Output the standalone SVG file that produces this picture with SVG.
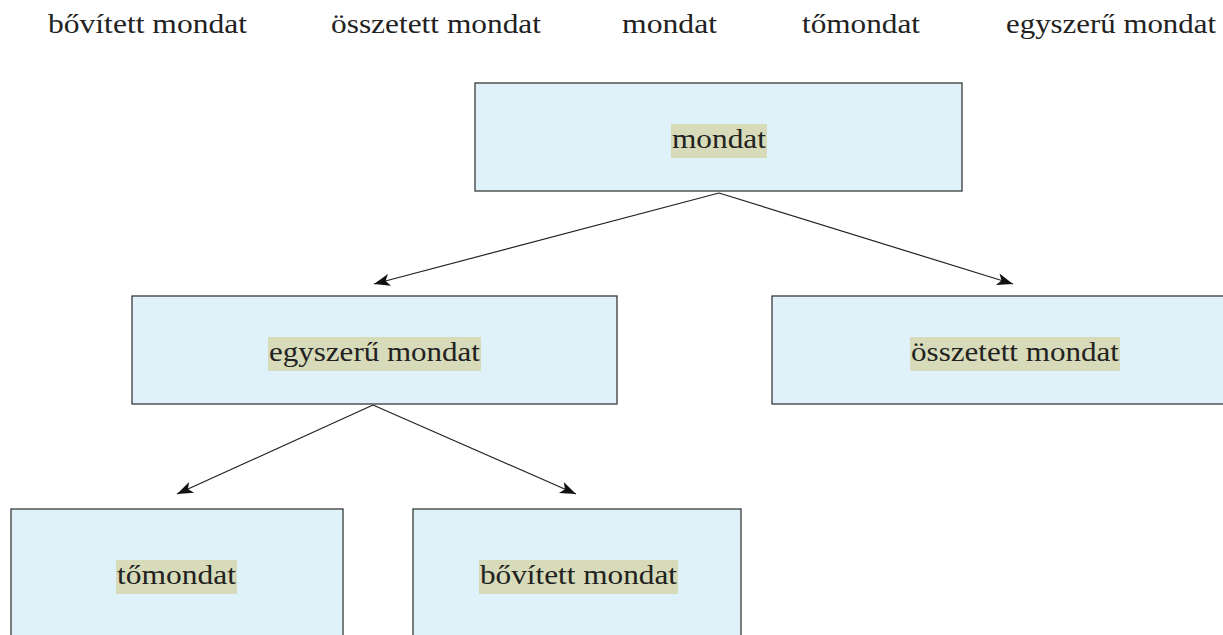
<svg xmlns="http://www.w3.org/2000/svg" width="1223" height="635" viewBox="0 0 1223 635">
<style>
.box{fill:#dff2fa;stroke:#3a3a3a;stroke-width:1.3}
.hl{fill:#d7dbb9}
.t{font-size:28px;fill:#222}
.c{stroke:#222;stroke-width:1.2;fill:none;marker-end:url(#ah)}
</style>
<defs>
<marker id="ah" markerUnits="userSpaceOnUse" markerWidth="20" markerHeight="14" refX="0" refY="0" viewBox="-17 -7 18 14" orient="auto">
<path d="M0,0 L-16,-6 L-12,0 L-16,6 Z" fill="#111"/>
</marker>
</defs>
<rect width="1223" height="635" fill="#fff"/>
<g id="legend" font-family="Liberation Serif, Times New Roman, DejaVu Serif, serif">
<text class="t" x="48" y="33" textLength="199" lengthAdjust="spacingAndGlyphs">bővített mondat</text>
<text class="t" x="331" y="33" textLength="210" lengthAdjust="spacingAndGlyphs">összetett mondat</text>
<text class="t" x="622" y="33" textLength="95" lengthAdjust="spacingAndGlyphs">mondat</text>
<text class="t" x="802" y="33" textLength="118" lengthAdjust="spacingAndGlyphs">tőmondat</text>
<text class="t" x="1006" y="33" textLength="210" lengthAdjust="spacingAndGlyphs">egyszerű mondat</text>
</g>
<g id="connectors">
<line class="c" x1="719" y1="193" x2="374" y2="284"/>
<line class="c" x1="719" y1="193" x2="1013" y2="284"/>
<line class="c" x1="373" y1="405" x2="177" y2="494"/>
<line class="c" x1="373" y1="405" x2="576" y2="494"/>
</g>
<g font-family="Liberation Serif, Times New Roman, DejaVu Serif, serif">
<g id="n-mondat">
<rect class="box" x="475" y="83" width="487" height="108"/>
<rect class="hl" x="671" y="124" width="96" height="34"/>
<text class="t" x="672" y="148" textLength="94" lengthAdjust="spacingAndGlyphs">mondat</text>
</g>
<g id="n-egyszeru">
<rect class="box" x="132" y="296" width="485" height="108"/>
<rect class="hl" x="268" y="337" width="213" height="34"/>
<text class="t" x="269" y="361" textLength="211" lengthAdjust="spacingAndGlyphs">egyszerű mondat</text>
</g>
<g id="n-osszetett">
<rect class="box" x="772" y="296" width="460" height="108"/>
<rect class="hl" x="910" y="337" width="210" height="34"/>
<text class="t" x="911" y="361" textLength="208" lengthAdjust="spacingAndGlyphs">összetett mondat</text>
</g>
<g id="n-tomondat">
<rect class="box" x="11" y="509" width="332" height="140"/>
<rect class="hl" x="116" y="560" width="121" height="34"/>
<text class="t" x="117" y="584" textLength="119" lengthAdjust="spacingAndGlyphs">tőmondat</text>
</g>
<g id="n-bovitett">
<rect class="box" x="413" y="509" width="328" height="140"/>
<rect class="hl" x="479" y="560" width="199" height="34"/>
<text class="t" x="480" y="584" textLength="197" lengthAdjust="spacingAndGlyphs">bővített mondat</text>
</g>
</g>
</svg>
